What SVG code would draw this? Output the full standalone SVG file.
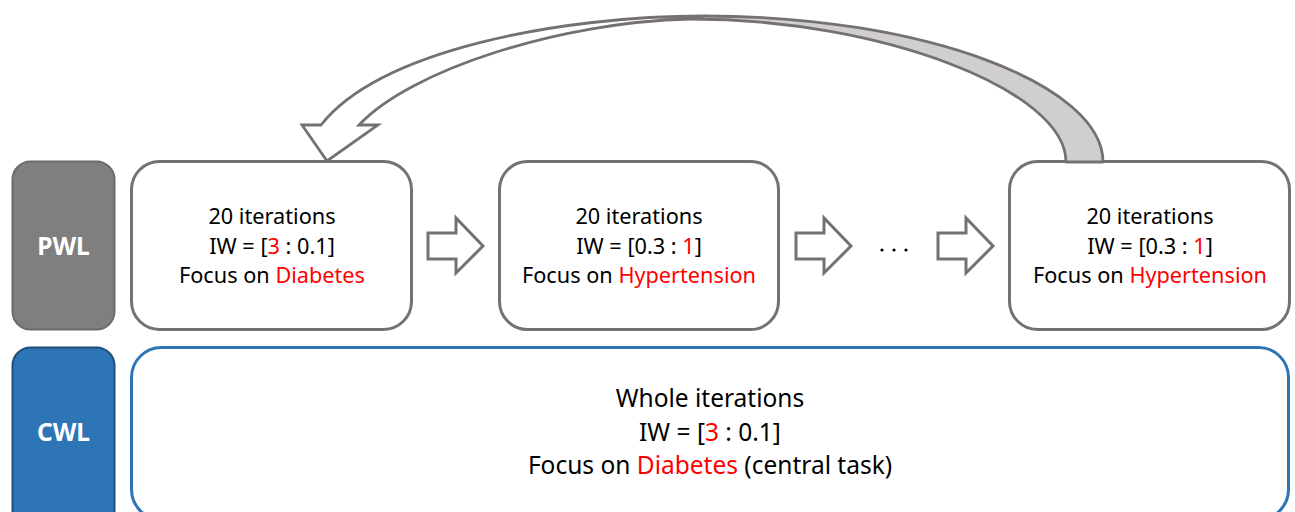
<svg xmlns="http://www.w3.org/2000/svg" width="1295" height="512" viewBox="0 0 1295 512">
<style>
.lbl{font-family:"Noto Sans","Open Sans",sans-serif;font-weight:bold;font-size:24.5px;fill:#fff;text-anchor:middle}
.t{font-family:"Noto Sans","Open Sans",sans-serif;font-size:21.7px;fill:#000;text-anchor:middle}
.tb{font-family:"Noto Sans","Open Sans",sans-serif;font-size:24.5px;fill:#000;text-anchor:middle}
.r{fill:#ff0000}
.box{fill:#fff;stroke:#767171;stroke-width:3}
.blk{fill:#fff;stroke:#767171;stroke-width:3;stroke-linejoin:miter}
</style>
<rect width="1295" height="512" fill="#fff"/>
<g id="pwl-label">
<rect x="12.5" y="161.5" width="102" height="168" rx="18" fill="#7f7f7f" stroke="#6b6b6b" stroke-width="2"/>
<text class="lbl" x="63.5" y="255">PWL</text>
</g>
<g id="cwl-label">
<rect x="12.5" y="347.5" width="102" height="180" rx="18" fill="#2e75b6" stroke="#1f4e79" stroke-width="2"/>
<text class="lbl" x="63.5" y="441">CWL</text>
</g>
<g id="box1">
<rect class="box" x="131.5" y="161.5" width="280" height="168" rx="28"/>
<text class="t" x="272" y="224">20 iterations</text>
<text class="t" x="272" y="254">IW = [<tspan class="r">3</tspan> : 0.1]</text>
<text class="t" x="272" y="283">Focus on <tspan class="r">Diabetes</tspan></text>
</g>
<g id="box2">
<rect class="box" x="499.5" y="161.5" width="279" height="168" rx="28"/>
<text class="t" x="639" y="224">20 iterations</text>
<text class="t" x="639" y="254">IW = [0.3 : <tspan class="r">1</tspan>]</text>
<text class="t" x="639" y="283">Focus on <tspan class="r">Hypertension</tspan></text>
</g>
<g id="box3">
<rect class="box" x="1009.5" y="161.5" width="280" height="168" rx="28"/>
<text class="t" x="1150" y="224">20 iterations</text>
<text class="t" x="1150" y="254">IW = [0.3 : <tspan class="r">1</tspan>]</text>
<text class="t" x="1150" y="283">Focus on <tspan class="r">Hypertension</tspan></text>
</g>
<g id="cwl-box">
<rect x="131.5" y="347.5" width="1157" height="172" rx="30" fill="#fff" stroke="#2e75b6" stroke-width="3"/>
<text class="tb" x="710" y="407">Whole iterations</text>
<text class="tb" x="710" y="441">IW = [<tspan class="r">3</tspan> : 0.1]</text>
<text class="tb" x="710" y="474">Focus on <tspan class="r">Diabetes</tspan> (central task)</text>
</g>
<g id="dots">
<circle cx="882" cy="250" r="1.6" fill="#000"/>
<circle cx="894" cy="250" r="1.6" fill="#000"/>
<circle cx="906" cy="250" r="1.6" fill="#000"/>
</g>
<g id="connectors">
<path class="blk" d="M428,233 L456,233 L456,218 L483,246 L456,273 L456,259 L428,259 Z"/>
<path class="blk" d="M796,233 L824,233 L824,218 L851,246 L824,273 L824,259 L796,259 Z"/>
<path class="blk" d="M938,233 L966,233 L966,218 L993,246 L966,273 L966,259 L938,259 Z"/>
<path d="M690,19 C880,19 1066,90 1066,162 L1103,162 C1103,85 925,16 705,16 Z" fill="#d0cece" stroke="#767171" stroke-width="2.8" stroke-linejoin="round"/>
<path d="M705,16 C560,16 380,50 321,125 L302,125 L327,161 L378,125 L359,125 C410,70 560,22 690,19 Z" fill="#fff" stroke="#767171" stroke-width="2.8" stroke-linejoin="miter"/>
</g>
</svg>
